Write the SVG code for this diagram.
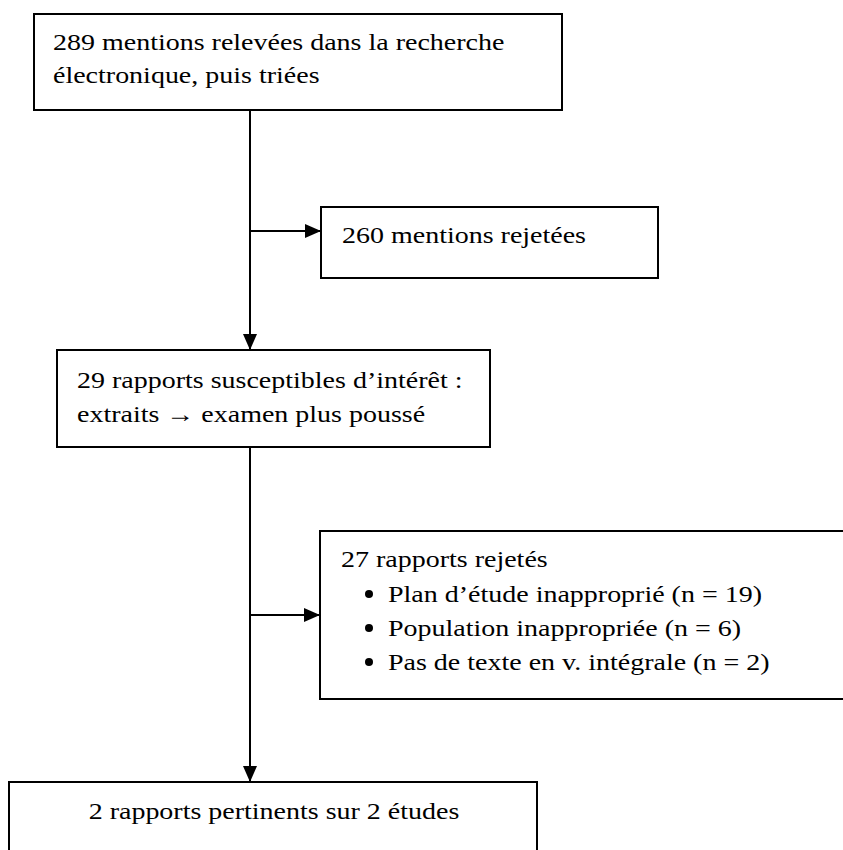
<svg xmlns="http://www.w3.org/2000/svg" width="843" height="850" viewBox="0 0 843 850">
<style>
.box{fill:#fff;stroke:#000;stroke-width:2}
.t{font-family:"Liberation Serif","Times New Roman",serif;font-size:28px;fill:#000}
.c{fill:none;stroke:#000;stroke-width:2}
</style>
<defs>
<marker id="ah" viewBox="0 0 16 14" refX="16" refY="7" markerWidth="16" markerHeight="14" markerUnits="userSpaceOnUse" orient="auto">
<path d="M0,0 L16,7 L0,14 Z" fill="#000"/>
</marker>
</defs>
<rect width="843" height="850" fill="#fff"/>
<g id="connectors">
<line class="c" x1="250" y1="110" x2="250" y2="350" marker-end="url(#ah)"/>
<line class="c" x1="250" y1="231" x2="321" y2="231" marker-end="url(#ah)"/>
<line class="c" x1="250" y1="447" x2="250" y2="782" marker-end="url(#ah)"/>
<line class="c" x1="250" y1="615" x2="320" y2="615" marker-end="url(#ah)"/>
</g>
<g id="n1">
<rect class="box" x="34" y="14" width="528" height="96"/>
<text class="t" transform="translate(53,50) scale(1,0.85)">289 mentions relevées dans la recherche</text>
<text class="t" transform="translate(53,83) scale(1,0.85)">électronique, puis triées</text>
</g>
<g id="n2">
<rect class="box" x="321" y="207" width="337" height="71"/>
<text class="t" transform="translate(342,243) scale(1,0.85)">260 mentions rejetées</text>
</g>
<g id="n3">
<rect class="box" x="57" y="350" width="433" height="97"/>
<text class="t" transform="translate(77,388) scale(1,0.85)">29 rapports susceptibles d’intérêt :</text>
<text class="t" transform="translate(77,422) scale(1,0.85)">extraits → examen plus poussé</text>
</g>
<g id="n4">
<rect class="box" x="320" y="531" width="540" height="168"/>
<text class="t" transform="translate(341,567) scale(1,0.85)">27 rapports rejetés</text>
<circle cx="369" cy="594" r="4"/>
<text class="t" transform="translate(388,602) scale(1,0.85)">Plan d’étude inapproprié (n = 19)</text>
<circle cx="369" cy="628" r="4"/>
<text class="t" transform="translate(388,636) scale(1,0.85)">Population inappropriée (n = 6)</text>
<circle cx="369" cy="662" r="4"/>
<text class="t" transform="translate(388,670) scale(1,0.85)">Pas de texte en v. intégrale (n = 2)</text>
</g>
<g id="n5">
<rect class="box" x="9" y="782" width="528" height="90"/>
<text class="t" transform="translate(274,819) scale(1,0.85)" text-anchor="middle">2 rapports pertinents sur 2 études</text>
</g>
</svg>
